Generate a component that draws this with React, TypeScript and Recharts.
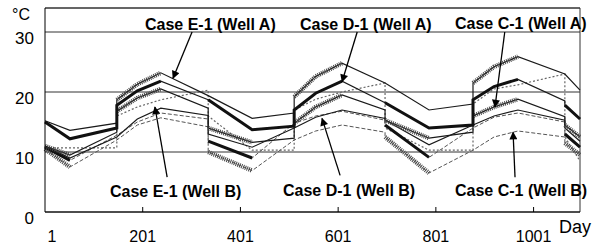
import React from 'react';
import { LineChart, Line, XAxis, YAxis, CartesianGrid, ReferenceLine } from 'recharts';

// break days: steps are written twice (before / after the switch)
const days = [1, 52, 148, 148, 190, 238, 335, 335, 425, 511, 511, 555, 609, 697, 697, 787, 877, 877, 920, 969, 1065, 1065, 1096];

// upper family (Well A side)
const upperTop = [15.2, 13.6, 14.8, 18.7, 21.3, 23.2, 19.4, 19.4, 15.6, 16.5, 19.2, 22.6, 24.8, 21.5, 21.5, 17.0, 18.0, 21.5, 24.2, 25.9, 23.0, 23.0, 20.3];
const upperThick = [15.0, 12.2, 14.0, 17.8, 20.2, 21.8, 18.7, 18.7, 13.7, 14.3, 17.0, 19.8, 21.8, 18.2, 18.2, 14.0, 14.5, 18.7, 20.9, 22.1, 18.5, 17.8, 15.5];
const upperHatch = [11.0, 9.5, 13.3, 16.8, 19.0, 20.5, 17.3, 14.0, 11.6, 12.3, 14.8, 17.5, 19.5, 17.0, 15.3, 12.3, 13.3, 16.0, 17.5, 18.8, 15.9, 14.5, 12.5];
// lower family (Well B side)
const lowerThin = [11.0, 9.0, 12.5, 12.5, 15.5, 17.3, 16.1, 13.0, 10.8, 14.0, 14.0, 15.8, 17.0, 15.6, 15.3, 11.2, 14.5, 14.5, 16.0, 17.0, 15.3, 14.0, 11.8];
const lowerThick = [10.8, 8.6, 12.8, 12.8, 15.0, 16.5, 15.5, 11.8, 9.0, 14.8, 14.8, 16.0, 16.8, 15.3, 14.5, 9.1, 14.0, 14.0, 15.8, 16.5, 15.0, 13.0, 10.8];
const lowerHatch = [10.5, 7.5, 12.0, 12.0, 14.5, 15.7, 14.2, 10.0, 6.9, 12.0, 12.0, 13.5, 14.5, 13.3, 12.5, 6.5, 10.3, 10.3, 12.5, 13.5, 12.5, 11.5, 9.5];
const dotted = [10.7, 10.7, 10.7, 16.0, 17.5, 18.7, 20.3, 16.0, 10.3, 10.3, 17.0, 18.8, 20.0, 21.5, 14.0, 10.3, 10.3, 18.0, 20.5, 21.2, 23.0, 12.5, 8.5];

const xTicks = [1, 201, 401, 601, 801, 1001];
const yTicks = [0, 10, 20, 30];

const caseLabels = [
  { text: 'Case E-1 (Well A)', x: 145, y: 30 },
  { text: 'Case D-1 (Well A)', x: 300, y: 30 },
  { text: 'Case C-1 (Well A)', x: 455, y: 29 },
  { text: 'Case E-1 (Well B)', x: 110, y: 197 },
  { text: 'Case D-1 (Well B)', x: 283, y: 196 },
  { text: 'Case C-1 (Well B)', x: 455, y: 196 },
];

// arrows in data units: [day, degC] -> [day, degC]
const arrows = [
  { from: [302, 30], to: [263, 22.3] },
  { from: [640, 30], to: [609, 21.7] },
  { from: [942, 30], to: [922, 17.5] },
  { from: [251, 5.8], to: [226, 17.5] },
  { from: [605, 6.1], to: [568, 15.6] },
  { from: [963, 5.8], to: [959, 13.3] },
];

// index ranges of the segments that get a heavier stroke
const RISE = [[3, 5], [10, 12], [17, 19]];
const FALL = [[0, 1], [7, 8], [14, 15], [21, 22]];
const RUN = [[0, 2], [3, 5], [7, 9], [10, 12], [14, 16], [17, 19], [21, 22]];

const pick = (vals: number[], ranges: number[][]) =>
  vals.map((v, i) => (ranges.some(([a, b]) => i >= a && i <= b) ? v : null));

const overlays = {
  topH: pick(upperTop, RISE),
  thickH: pick(upperThick, RUN),
  hatchH: pick(upperHatch, [...RISE, ...FALL]),
  lThickH: pick(lowerThick, FALL),
  lHatchH: pick(lowerHatch, FALL),
};

const rows = days.map((day, i) => ({
  day,
  top: upperTop[i],
  thick: upperThick[i],
  hatch: upperHatch[i],
  lThin: lowerThin[i],
  lThick: lowerThick[i],
  lHatch: lowerHatch[i],
  dot: dotted[i],
  topH: overlays.topH[i],
  thickH: overlays.thickH[i],
  hatchH: overlays.hatchH[i],
  lThickH: overlays.lThickH[i],
  lHatchH: overlays.lHatchH[i],
}));

const font = '"Liberation Sans", Arial, sans-serif';

const YTick = (p: any) => (
  <text x={p.x - 11} y={p.y + 12} textAnchor="end" fontSize={17} fontFamily={font} fill="#000">
    {p.payload.value}
  </text>
);

const XTick = (p: any) => (
  <g>
    {p.payload.value !== 1 && <line x1={p.x} x2={p.x} y1={p.y} y2={p.y - 5} stroke="#000" />}
    <text x={p.x + (p.payload.value === 1 ? 7 : 0)} y={p.y + 30} textAnchor="middle" fontSize={16} fontFamily={font} fill="#000">
      {p.payload.value}
    </text>
  </g>
);

const thin = { stroke: '#1a1a1a', strokeWidth: 1.2 };
const heavy = { stroke: '#111', strokeWidth: 3 };
const hatched = { stroke: '#444', strokeWidth: 4.5, strokeDasharray: '1 1' };
const dashed = { stroke: '#555', strokeWidth: 1, strokeDasharray: '4 2' };

export default function App() {
  const common = { type: 'linear' as const, dot: false, isAnimationActive: false, activeDot: false };
  return (
    <div style={{ position: 'absolute', left: 0, top: 0, width: 605, height: 247, background: '#fff' }}>
      <LineChart width={605} height={247} data={rows} margin={{ top: 8, right: 25, bottom: 0, left: 5 }}>
        <CartesianGrid vertical={false} stroke="#333" />
        <XAxis dataKey="day" type="number" domain={[1, 1096]} ticks={xTicks} height={35}
          axisLine={{ stroke: '#000' }} tickLine={false} tickSize={0} tickMargin={0} tick={XTick} />
        <YAxis type="number" domain={[0, 34]} ticks={yTicks} width={40}
          axisLine={{ stroke: '#000' }} tickLine={false} tickSize={0} tickMargin={0} tick={YTick} />
        <ReferenceLine y={34} stroke="#333" />
        <ReferenceLine x={1096} stroke="#333" />

        <Line {...common} dataKey="dot" stroke="#666" strokeWidth={1.2} strokeDasharray="2 2" />
        <Line {...common} dataKey="lHatch" {...dashed} />
        <Line {...common} dataKey="lThick" {...dashed} />
        <Line {...common} dataKey="lThin" {...thin} />
        <Line {...common} dataKey="hatch" {...thin} />
        <Line {...common} dataKey="thick" {...thin} />
        <Line {...common} dataKey="top" {...thin} />

        <Line {...common} dataKey="lHatchH" {...hatched} />
        <Line {...common} dataKey="lThickH" {...heavy} />
        <Line {...common} dataKey="hatchH" {...hatched} />
        <Line {...common} dataKey="thickH" {...heavy} />
        <Line {...common} dataKey="topH" {...hatched} />

        {arrows.map((a, i) => (
          <ReferenceLine key={i} segment={[{ x: a.from[0], y: a.from[1] }, { x: a.to[0], y: a.to[1] }]}
            stroke="#000" strokeWidth={1.3} markerEnd="url(#arrowHead)" ifOverflow="visible" />
        ))}
      </LineChart>
      <svg width={605} height={247} style={{ position: 'absolute', left: 0, top: 0, pointerEvents: 'none' }}>
        <defs>
          <marker id="arrowHead" viewBox="0 0 10 10" refX="9" refY="5" markerWidth="9" markerHeight="8"
            markerUnits="userSpaceOnUse" orient="auto">
            <path d="M0,0 L10,5 L0,10 z" fill="#000" />
          </marker>
        </defs>
        <text x={12} y={20} fontSize={16} fontFamily={font} fill="#000">°C</text>
        <text x={559} y={233} fontSize={18} fontFamily={font} fill="#000">Day</text>
        {caseLabels.map((c) => (
          <text key={c.text} x={c.x} y={c.y} fontSize={16} fontWeight="bold" fontFamily={font} fill="#000">
            {c.text}
          </text>
        ))}
      </svg>
    </div>
  );
}
